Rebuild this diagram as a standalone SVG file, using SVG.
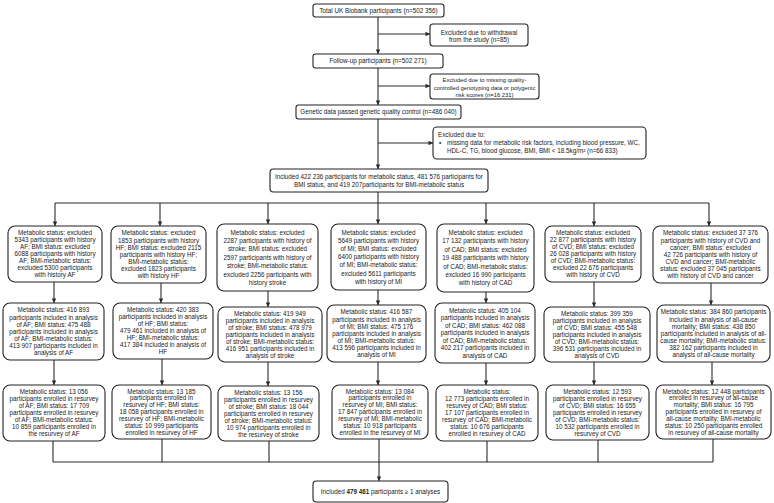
<svg xmlns="http://www.w3.org/2000/svg" width="774" height="503" viewBox="0 0 774 503">
<defs>
<style>
.bx{fill:#fff;stroke:#222;stroke-width:1.1}
.t{font-family:"Liberation Sans",Arial,sans-serif;font-size:6.3px;fill:#1a1a1a;text-anchor:middle}
.tl{font-family:"Liberation Sans",Arial,sans-serif;font-size:6.3px;fill:#1a1a1a}
.ts{font-size:5.85px}
.ln{fill:none;stroke:#2a2a2a;stroke-width:1.1}
</style>
<marker id="ah" viewBox="0 0 10 10" refX="10" refY="5" markerWidth="5" markerHeight="4.5" markerUnits="userSpaceOnUse" orient="auto">
<path d="M0,0 L10,5 L0,10 z" fill="#2a2a2a"/>
</marker>
</defs>
<rect width="774" height="503" fill="#fff"/>

<g id="connectors">
<line class="ln" x1="378" y1="17" x2="378" y2="54" marker-end="url(#ah)"/>
<line class="ln" x1="378" y1="34" x2="430" y2="34" marker-end="url(#ah)"/>
<line class="ln" x1="378" y1="68" x2="378" y2="105" marker-end="url(#ah)"/>
<line class="ln" x1="378" y1="86" x2="430" y2="86" marker-end="url(#ah)"/>
<line class="ln" x1="378" y1="119" x2="378" y2="169" marker-end="url(#ah)"/>
<line class="ln" x1="378" y1="143" x2="433" y2="143" marker-end="url(#ah)"/>
<line class="ln" x1="378" y1="192" x2="378" y2="203"/>
<line class="ln" x1="55" y1="203" x2="709" y2="203"/>
<line class="ln" x1="55" y1="203" x2="55" y2="226" marker-end="url(#ah)"/>
<line class="ln" x1="160" y1="203" x2="160" y2="226" marker-end="url(#ah)"/>
<line class="ln" x1="268" y1="203" x2="268" y2="224" marker-end="url(#ah)"/>
<line class="ln" x1="378" y1="203" x2="378" y2="224" marker-end="url(#ah)"/>
<line class="ln" x1="486" y1="203" x2="486" y2="224" marker-end="url(#ah)"/>
<line class="ln" x1="594" y1="203" x2="594" y2="226" marker-end="url(#ah)"/>
<line class="ln" x1="709" y1="203" x2="709" y2="226" marker-end="url(#ah)"/>

<line class="ln" x1="54" y1="282" x2="54" y2="303" marker-end="url(#ah)"/>
<line class="ln" x1="161" y1="283" x2="161" y2="303" marker-end="url(#ah)"/>
<line class="ln" x1="268" y1="291" x2="268" y2="307" marker-end="url(#ah)"/>
<line class="ln" x1="378" y1="290" x2="378" y2="305" marker-end="url(#ah)"/>
<line class="ln" x1="486" y1="292" x2="486" y2="303" marker-end="url(#ah)"/>
<line class="ln" x1="594" y1="282" x2="594" y2="307" marker-end="url(#ah)"/>
<line class="ln" x1="711" y1="283" x2="711" y2="305" marker-end="url(#ah)"/>

<line class="ln" x1="54" y1="360" x2="54" y2="385" marker-end="url(#ah)"/>
<line class="ln" x1="162" y1="359" x2="162" y2="385" marker-end="url(#ah)"/>
<line class="ln" x1="268" y1="362" x2="268" y2="386" marker-end="url(#ah)"/>
<line class="ln" x1="378" y1="362" x2="378" y2="385" marker-end="url(#ah)"/>
<line class="ln" x1="486" y1="363" x2="486" y2="385" marker-end="url(#ah)"/>
<line class="ln" x1="594" y1="362" x2="594" y2="385" marker-end="url(#ah)"/>
<line class="ln" x1="712" y1="362" x2="712" y2="385" marker-end="url(#ah)"/>

<line class="ln" x1="53" y1="441" x2="53" y2="462"/>
<line class="ln" x1="162" y1="439" x2="162" y2="462"/>
<line class="ln" x1="269" y1="441" x2="269" y2="462"/>
<line class="ln" x1="379" y1="439" x2="379" y2="462"/>
<line class="ln" x1="487" y1="441" x2="487" y2="462"/>
<line class="ln" x1="598" y1="440" x2="598" y2="462"/>
<line class="ln" x1="713" y1="439" x2="713" y2="462"/>
<line class="ln" x1="53" y1="462" x2="713" y2="462"/>
<line class="ln" x1="379" y1="462" x2="379" y2="481" marker-end="url(#ah)"/>
</g>

<g id="n-total">
<rect class="bx" x="313" y="4" width="131" height="13" rx="2.5"/>
<text class="t" x="378.5" y="12.8">Total UK Biobank participants (n=502 356)</text>
</g>
<g id="n-excl1">
<rect class="bx" x="430" y="24" width="98" height="22" rx="3"/>
<text class="t" x="479" y="34.5">Excluded due to withdrawal</text>
<text class="t" x="479" y="42.2">from the study (n=85)</text>
</g>
<g id="n-followup">
<rect class="bx" x="313" y="54" width="130" height="14" rx="2.5"/>
<text class="t" x="378" y="63.2">Follow-up participants (n=502 271)</text>
</g>
<g id="n-excl2">
<rect class="bx" x="430" y="74" width="109" height="25" rx="3"/>
<text class="t ts" x="484.5" y="82.2">Excluded due to missing quality-</text>
<text class="t ts" x="484.5" y="89.5">controlled genotyping data or polygenic</text>
<text class="t ts" x="484.5" y="96.5">risk scores (n=16 231)</text>
</g>
<g id="n-genetic">
<rect class="bx" x="296" y="105" width="165" height="14" rx="2.5"/>
<text class="t" x="378.5" y="114.2">Genetic data passed genetic quality control (n=486 040)</text>
</g>
<g id="n-excl3">
<rect class="bx" x="433" y="127" width="213" height="32" rx="4"/>
<text class="tl" x="438" y="137.2">Excluded due to:</text>
<text class="tl" x="439" y="145.2">•</text>
<text class="tl" x="447" y="145.2">missing data for metabolic risk factors, including blood pressure, WC,</text>
<text class="tl" x="447" y="153.2">HDL-C, TG, blood glucose, BMI, BMI &lt; 18.5kg/m² (n=66 833)</text>
</g>
<g id="n-included">
<rect class="bx" x="270" y="169" width="218" height="23" rx="3.5"/>
<text class="t" x="379" y="179.2">Included 422 236 participants for metabolic status, 481 576 participants for</text>
<text class="t" x="379" y="187.2">BMI status, and 419 207participants for BMI-metabolic status</text>
</g>

<g id="n-af-excl">
<rect class="bx" x="8" y="226" width="94" height="56" rx="7"/>
<text class="t" x="55" y="235.2">Metabolic status: excluded</text>
<text class="t" x="55" y="242.2">5343 participants with history</text>
<text class="t" x="55" y="249.2">AF; BMI status: excluded</text>
<text class="t" x="55" y="256.2">6088 participants with history</text>
<text class="t" x="55" y="263.2">AF; BMI-metabolic status:</text>
<text class="t" x="55" y="270.2">excluded 5300 participants</text>
<text class="t" x="55" y="277.2">with history AF</text>
</g>
<g id="n-hf-excl">
<rect class="bx" x="111" y="226" width="95" height="57" rx="7"/>
<text class="t" x="158.5" y="235.4">Metabolic status: excluded</text>
<text class="t" x="158.5" y="242.5">1853 participants with history</text>
<text class="t" x="158.5" y="249.6">HF; BMI status: excluded 2115</text>
<text class="t" x="158.5" y="256.7">participants with history HF;</text>
<text class="t" x="158.5" y="263.8">BMI-metabolic status:</text>
<text class="t" x="158.5" y="270.9">excluded 1823 participants</text>
<text class="t" x="158.5" y="278">with history HF</text>
</g>
<g id="n-stroke-excl">
<rect class="bx" x="217" y="224" width="101" height="67" rx="7"/>
<text class="t" x="267.5" y="234.5">Metabolic status: excluded</text>
<text class="t" x="267.5" y="242.9">2287 participants with history of</text>
<text class="t" x="267.5" y="251.3">stroke; BMI status: excluded</text>
<text class="t" x="267.5" y="259.7">2597 participants with history of</text>
<text class="t" x="267.5" y="268.1">stroke; BMI-metabolic status:</text>
<text class="t" x="267.5" y="276.5">excluded 2256 participants with</text>
<text class="t" x="267.5" y="284.9">history stroke</text>
</g>
<g id="n-mi-excl">
<rect class="bx" x="331" y="224" width="95" height="66" rx="7"/>
<text class="t" x="378.5" y="234.6">Metabolic status: excluded</text>
<text class="t" x="378.5" y="242.8">5649 participants with history</text>
<text class="t" x="378.5" y="251">of MI; BMI status: excluded</text>
<text class="t" x="378.5" y="259.2">6400 participants with history</text>
<text class="t" x="378.5" y="267.4">of MI; BMI-metabolic status:</text>
<text class="t" x="378.5" y="275.6">excluded 5611 participants</text>
<text class="t" x="378.5" y="283.8">with history of MI</text>
</g>
<g id="n-cad-excl">
<rect class="bx" x="437" y="224" width="97" height="68" rx="7"/>
<text class="t" x="485.5" y="235">Metabolic status: excluded</text>
<text class="t" x="485.5" y="243.4">17 132 participants with history</text>
<text class="t" x="485.5" y="251.8">of CAD; BMI status: excluded</text>
<text class="t" x="485.5" y="260.2">19 488 participants with history</text>
<text class="t" x="485.5" y="268.6">of CAD; BMI-metabolic status:</text>
<text class="t" x="485.5" y="277">excluded 16 990 participants</text>
<text class="t" x="485.5" y="285.4">with history of CAD</text>
</g>
<g id="n-cvd-excl">
<rect class="bx" x="545" y="226" width="96" height="56" rx="7"/>
<text class="t" x="593" y="235.2">Metabolic status: excluded</text>
<text class="t" x="593" y="242.2">22 877 participants with history</text>
<text class="t" x="593" y="249.2">of CVD; BMI status: excluded</text>
<text class="t" x="593" y="256.2">26 028 participants with history</text>
<text class="t" x="593" y="263.2">of CVD; BMI-metabolic status:</text>
<text class="t" x="593" y="270.2">excluded 22 676 participants</text>
<text class="t" x="593" y="277.2">with history of CVD</text>
</g>
<g id="n-death-excl">
<rect class="bx" x="653" y="226" width="115" height="57" rx="7"/>
<text class="t" x="710.5" y="235.4">Metabolic status: excluded 37 376</text>
<text class="t" x="710.5" y="242.5">participants with history of CVD and</text>
<text class="t" x="710.5" y="249.6">cancer; BMI status: excluded</text>
<text class="t" x="710.5" y="256.7">42 726 participants with history of</text>
<text class="t" x="710.5" y="263.8">CVD and cancer; BMI-metabolic</text>
<text class="t" x="710.5" y="270.9">status: excluded 37 045 participants</text>
<text class="t" x="710.5" y="278">with history of CVD and cancer</text>
</g>

<g id="n-af-inc">
<rect class="bx" x="3" y="303" width="101" height="57" rx="7"/>
<text class="t" x="53.5" y="312.4">Metabolic status: 416 893</text>
<text class="t" x="53.5" y="319.5">participants included in analysis</text>
<text class="t" x="53.5" y="326.6">of AF; BMI status: 475 488</text>
<text class="t" x="53.5" y="333.7">participants included in analysis</text>
<text class="t" x="53.5" y="340.8">of AF; BMI-metabolic status:</text>
<text class="t" x="53.5" y="347.9">413 907 participants included in</text>
<text class="t" x="53.5" y="355">analysis of AF</text>
</g>
<g id="n-hf-inc">
<rect class="bx" x="113" y="303" width="100" height="56" rx="7"/>
<text class="t" x="163" y="312.2">Metabolic status: 420 383</text>
<text class="t" x="163" y="319.2">participants included in analysis</text>
<text class="t" x="163" y="326.2">of HF; BMI status:</text>
<text class="t" x="163" y="333.2">479 461 included in analysis of</text>
<text class="t" x="163" y="340.2">HF; BMI-metabolic status:</text>
<text class="t" x="163" y="347.2">417 384 included in analysis of</text>
<text class="t" x="163" y="354.2">HF</text>
</g>
<g id="n-stroke-inc">
<rect class="bx" x="218" y="307" width="104" height="55" rx="7"/>
<text class="t" x="270" y="315.7">Metabolic status: 419 949</text>
<text class="t" x="270" y="322.7">participants included in analysis</text>
<text class="t" x="270" y="329.7">of stroke; BMI status: 478 979</text>
<text class="t" x="270" y="336.7">participants included in analysis</text>
<text class="t" x="270" y="343.7">of stroke; BMI-metabolic status:</text>
<text class="t" x="270" y="350.7">416 951 participants included in</text>
<text class="t" x="270" y="357.7">analysis of stroke</text>
</g>
<g id="n-mi-inc">
<rect class="bx" x="327" y="305" width="99" height="57" rx="7"/>
<text class="t" x="376.5" y="314.4">Metabolic status: 416 587</text>
<text class="t" x="376.5" y="321.5">participants included in analysis</text>
<text class="t" x="376.5" y="328.6">of MI; BMI status: 475 176</text>
<text class="t" x="376.5" y="335.7">participants included in analysis</text>
<text class="t" x="376.5" y="342.8">of MI; BMI-metabolic status:</text>
<text class="t" x="376.5" y="349.9">413 596 participants included in</text>
<text class="t" x="376.5" y="357">analysis of MI</text>
</g>
<g id="n-cad-inc">
<rect class="bx" x="435" y="303" width="100" height="60" rx="7"/>
<text class="t" x="485" y="312.7">Metabolic status: 405 104</text>
<text class="t" x="485" y="320.2">participants included in analysis</text>
<text class="t" x="485" y="327.7">of CAD; BMI status: 462 088</text>
<text class="t" x="485" y="335.2">participants included in analysis</text>
<text class="t" x="485" y="342.7">of CAD; BMI-metabolic status:</text>
<text class="t" x="485" y="350.2">402 217 participants included in</text>
<text class="t" x="485" y="357.7">analysis of CAD</text>
</g>
<g id="n-cvd-inc">
<rect class="bx" x="544" y="307" width="106" height="55" rx="7"/>
<text class="t" x="597" y="315.7">Metabolic status: 399 359</text>
<text class="t" x="597" y="322.7">participants included in analysis</text>
<text class="t" x="597" y="329.7">of CVD; BMI status: 455 548</text>
<text class="t" x="597" y="336.7">participants included in analysis</text>
<text class="t" x="597" y="343.7">of CVD; BMI-metabolic status:</text>
<text class="t" x="597" y="350.7">396 531 participants included in</text>
<text class="t" x="597" y="357.7">analysis of CVD</text>
</g>
<g id="n-death-inc">
<rect class="bx" x="657" y="305" width="113" height="57" rx="7"/>
<text class="t" x="713.5" y="314.4">Metabolic status: 384 860 participants</text>
<text class="t" x="713.5" y="321.5">included in analysis of all-cause</text>
<text class="t" x="713.5" y="328.6">mortality; BMI status: 438 850</text>
<text class="t" x="713.5" y="335.7">participants included in analysis of all-</text>
<text class="t" x="713.5" y="342.8">cause mortality; BMI-metabolic status:</text>
<text class="t" x="713.5" y="349.9">382 162 participants included in</text>
<text class="t" x="713.5" y="357">analysis of all-cause mortality</text>
</g>

<g id="n-af-res">
<rect class="bx" x="3" y="385" width="102" height="56" rx="7"/>
<text class="t" x="54" y="394.2">Metabolic status: 13 056</text>
<text class="t" x="54" y="401.2">participants enrolled in resurvey</text>
<text class="t" x="54" y="408.2">of AF; BMI status: 17 709</text>
<text class="t" x="54" y="415.2">participants enrolled in resurvey</text>
<text class="t" x="54" y="422.2">of AF; BMI-metabolic status:</text>
<text class="t" x="54" y="429.2">10 859 participants enrolled in</text>
<text class="t" x="54" y="436.2">the resurvey of AF</text>
</g>
<g id="n-hf-res">
<rect class="bx" x="112" y="385" width="99" height="54" rx="7"/>
<text class="t" x="161.5" y="393.5">Metabolic status: 13 185</text>
<text class="t" x="161.5" y="400.4">participants enrolled in</text>
<text class="t" x="161.5" y="407.3">resurvey of HF; BMI status:</text>
<text class="t" x="161.5" y="414.2">18 058 participants enrolled in</text>
<text class="t" x="161.5" y="421.1">resurvey of HF; BMI-metabolic</text>
<text class="t" x="161.5" y="428">status: 10 999 participants</text>
<text class="t" x="161.5" y="434.9">enrolled in resurvey of HF</text>
</g>
<g id="n-stroke-res">
<rect class="bx" x="218" y="386" width="101" height="55" rx="7"/>
<text class="t" x="268.5" y="394.7">Metabolic status: 13 156</text>
<text class="t" x="268.5" y="401.7">participants enrolled in resurvey</text>
<text class="t" x="268.5" y="408.7">of stroke; BMI status: 18 044</text>
<text class="t" x="268.5" y="415.7">participants enrolled in resurvey</text>
<text class="t" x="268.5" y="422.7">of stroke; BMI-metabolic status:</text>
<text class="t" x="268.5" y="429.7">10 974 participants enrolled in</text>
<text class="t" x="268.5" y="436.7">the resurvey of stroke</text>
</g>
<g id="n-mi-res">
<rect class="bx" x="332" y="385" width="96" height="54" rx="7"/>
<text class="t" x="380" y="393.5">Metabolic status: 13 084</text>
<text class="t" x="380" y="400.4">participants enrolled in</text>
<text class="t" x="380" y="407.3">resurvey of MI; BMI status:</text>
<text class="t" x="380" y="414.2">17 847 participants enrolled in</text>
<text class="t" x="380" y="421.1">resurvey of MI; BMI-metabolic</text>
<text class="t" x="380" y="428">status: 10 918 participants</text>
<text class="t" x="380" y="434.9">enrolled in the resurvey of MI</text>
</g>
<g id="n-cad-res">
<rect class="bx" x="436" y="385" width="102" height="56" rx="7"/>
<text class="t" x="487" y="394.2">Metabolic status:</text>
<text class="t" x="487" y="401.2">12 773 participants enrolled in</text>
<text class="t" x="487" y="408.2">resurvey of CAD; BMI status:</text>
<text class="t" x="487" y="415.2">17 107 participants enrolled in</text>
<text class="t" x="487" y="422.2">resurvey of CAD; BMI-metabolic</text>
<text class="t" x="487" y="429.2">status: 10 676 participants</text>
<text class="t" x="487" y="436.2">enrolled in resurvey of CAD</text>
</g>
<g id="n-cvd-res">
<rect class="bx" x="546" y="385" width="103" height="55" rx="7"/>
<text class="t" x="597.5" y="393.7">Metabolic status: 12 593</text>
<text class="t" x="597.5" y="400.7">participants enrolled in resurvey</text>
<text class="t" x="597.5" y="407.7">of CVD; BMI status: 16 655</text>
<text class="t" x="597.5" y="414.7">participants enrolled in resurvey</text>
<text class="t" x="597.5" y="421.7">of CVD; BMI-metabolic status:</text>
<text class="t" x="597.5" y="428.7">10 532 participants enrolled in</text>
<text class="t" x="597.5" y="435.7">resurvey of CVD</text>
</g>
<g id="n-death-res">
<rect class="bx" x="656" y="385" width="115" height="54" rx="7"/>
<text class="t" x="713.5" y="393.5">Metabolic status: 12 448 participants</text>
<text class="t" x="713.5" y="400.4">enrolled in resurvey of all-cause</text>
<text class="t" x="713.5" y="407.3">mortality; BMI status: 16 795</text>
<text class="t" x="713.5" y="414.2">participants enrolled in resurvey of</text>
<text class="t" x="713.5" y="421.1">all-cause mortality; BMI-metabolic</text>
<text class="t" x="713.5" y="428">status: 10 250 participants enrolled</text>
<text class="t" x="713.5" y="434.9">in resurvey of all-cause mortality</text>
</g>

<g id="n-final">
<rect class="bx" x="313" y="481" width="135" height="21" rx="3.5"/>
<text class="t" x="380.5" y="493.8">Included <tspan font-weight="bold">479 461</tspan> participants ≥ 1 analyses</text>
</g>
</svg>
